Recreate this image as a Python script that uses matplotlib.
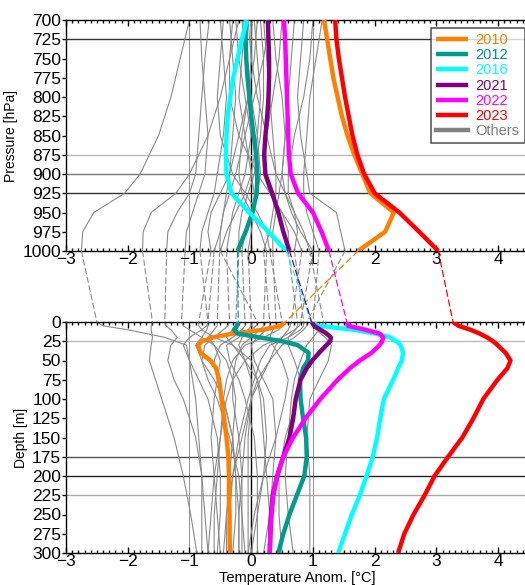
import matplotlib
matplotlib.use("Agg")
import matplotlib.pyplot as plt
from matplotlib.patches import ConnectionPatch
from matplotlib.ticker import MultipleLocator

plt.rcParams['font.family'] = ['Liberation Sans', 'DejaVu Sans']

# ---------------- data ----------------
p_levels = [700, 725, 750, 775, 800, 825, 850, 875, 900, 925, 950, 975, 1000]
d_levels = [0, 5, 10, 15, 20, 25, 30, 40, 50, 60, 75, 100, 125, 150, 175, 200, 225, 250, 275, 300]

years = ['2010', '2012', '2016', '2021', '2022', '2023']
colors = ['#FF7F00', '#009B8D', '#00FFFF', '#800080', '#FF00FF', '#FF0000']

air_2010 = [1.18, 1.23, 1.28, 1.33, 1.40, 1.47, 1.56, 1.67, 1.80, 1.93, 2.31, 2.17, 1.73]
air_2012 = [-0.09, -0.09, -0.08, -0.06, -0.03, 0.00, 0.04, 0.08, 0.10, 0.09, 0.02, -0.09, -0.22]
air_2016 = [-0.07, -0.15, -0.22, -0.29, -0.34, -0.38, -0.40, -0.41, -0.40, -0.32, -0.03, 0.28, 0.57]
air_2021 = [0.27, 0.28, 0.29, 0.29, 0.28, 0.26, 0.23, 0.21, 0.23, 0.34, 0.44, 0.52, 0.62]
air_2022 = [0.53, 0.55, 0.56, 0.57, 0.58, 0.59, 0.60, 0.61, 0.64, 0.76, 1.00, 1.14, 1.26]
air_2023 = [1.36, 1.38, 1.42, 1.47, 1.52, 1.58, 1.64, 1.72, 1.83, 2.00, 2.40, 2.72, 3.03]

sea_2010 = [0.55, 0.48, 0.20, -0.30, -0.62, -0.80, -0.86, -0.82, -0.66, -0.57, -0.52, -0.48, -0.44, -0.40, -0.37, -0.36, -0.36, -0.35, -0.35, -0.345]
sea_2012 = [-0.21, -0.23, -0.28, -0.22, 0.14, 0.50, 0.75, 0.93, 0.92, 0.84, 0.79, 0.80, 0.84, 0.89, 0.90, 0.86, 0.74, 0.62, 0.52, 0.44]
sea_2016 = [0.97, 1.10, 1.65, 2.00, 2.25, 2.35, 2.42, 2.46, 2.44, 2.38, 2.30, 2.15, 2.09, 2.04, 1.97, 1.87, 1.76, 1.63, 1.52, 1.41]
sea_2021 = [0.98, 1.02, 1.12, 1.22, 1.29, 1.28, 1.22, 1.10, 0.99, 0.90, 0.80, 0.72, 0.68, 0.62, 0.52, 0.42, 0.35, 0.32, 0.31, 0.30]
sea_2022 = [1.55, 1.57, 1.85, 2.08, 2.14, 2.12, 2.08, 1.95, 1.76, 1.60, 1.40, 1.12, 0.88, 0.68, 0.52, 0.42, 0.36, 0.33, 0.31, 0.30]
sea_2023 = [3.27, 3.36, 3.55, 3.70, 3.82, 3.92, 3.99, 4.12, 4.20, 4.15, 3.99, 3.76, 3.60, 3.42, 3.19, 2.97, 2.81, 2.63, 2.48, 2.38]

air_series = [air_2010, air_2012, air_2016, air_2021, air_2022, air_2023]
sea_series = [sea_2010, sea_2012, sea_2016, sea_2021, sea_2022, sea_2023]

# other years (grey)
p_levels_o = [700, 750, 800, 850, 900, 925, 950, 975, 1000]
d_levels_o = [0, 5, 10, 20, 30, 50, 75, 100, 150, 200, 250, 300]

air_others = [
    [-1.00, -1.15, -1.30, -1.50, -1.80, -2.05, -2.55, -2.73, -2.75],
    [-0.20, -0.35, -0.50, -0.70, -1.00, -1.22, -1.62, -1.75, -1.76],
    [-0.68, -0.75, -0.80, -0.85, -0.90, -1.00, -1.20, -1.35, -1.37],
    [-0.83, -0.80, -0.75, -0.70, -0.75, -0.85, -0.95, -1.05, -1.07],
    [-0.50, -0.45, -0.40, -0.45, -0.55, -0.60, -0.70, -0.80, -0.83],
    [-0.35, -0.30, -0.25, -0.30, -0.35, -0.40, -0.45, -0.50, -0.51],
    [-0.25, -0.20, -0.10, 0.00, -0.10, -0.20, -0.30, -0.35, -0.40],
    [-0.15, -0.10, 0.00, 0.10, 0.15, 0.10, 0.00, -0.10, -0.15],
    [-0.10, -0.15, -0.20, -0.10, 0.00, 0.05, 0.05, 0.00, -0.05],
    [0.05, 0.10, 0.15, 0.10, 0.00, -0.10, -0.25, -0.40, -0.50],
    [0.10, 0.05, -0.05, -0.15, -0.20, -0.15, 0.00, 0.15, 0.25],
    [0.20, 0.25, 0.30, 0.35, 0.40, 0.40, 0.35, 0.30, 0.20],
    [0.35, 0.40, 0.50, 0.55, 0.50, 0.45, 0.40, 0.35, 0.35],
    [0.50, 0.45, 0.35, 0.25, 0.20, 0.30, 0.50, 0.70, 0.82],
    [0.70, 0.65, 0.60, 0.55, 0.50, 0.55, 0.65, 0.80, 1.00],
    [0.85, 0.80, 0.75, 0.80, 0.90, 0.95, 1.38, 1.45, 1.52],
    [1.00, 0.95, 0.85, 0.70, 0.60, 0.60, 0.70, 0.85, 0.95],
    [1.15, 1.05, 0.95, 0.90, 0.85, 0.85, 0.90, 1.00, 1.10],
    [-0.45, -0.50, -0.55, -0.50, -0.30, -0.10, 0.10, 0.25, 0.30],
    [0.00, 0.00, -0.05, -0.20, -0.35, -0.50, -0.65, -0.70, -0.65],
    [-0.30, -0.35, -0.35, -0.20, 0.10, 0.30, 0.50, 0.60, 0.60],
    [0.15, 0.20, 0.20, 0.15, 0.05, -0.05, -0.15, -0.20, -0.20],
    [-0.05, 0.00, 0.10, 0.25, 0.40, 0.55, 0.70, 0.75, 0.70],
    [0.30, 0.20, 0.05, -0.10, -0.25, -0.35, -0.45, -0.50, -0.60],
]

sea_others = [
    [-2.50, -2.40, -2.00, -1.40, -1.05, -1.00, -0.95, -0.90, -0.85, -0.80, -0.80, -0.80],
    [-1.60, -1.62, -1.62, -1.60, -1.62, -1.65, -1.55, -1.45, -1.25, -1.10, -0.98, -0.88],
    [-1.40, -1.38, -1.30, -1.20, -1.30, -1.35, -1.25, -1.10, -0.90, -0.80, -0.75, -0.70],
    [-1.13, -1.10, -1.00, -0.80, -0.60, -0.50, -0.55, -0.60, -0.65, -0.60, -0.55, -0.50],
    [-0.70, -0.72, -0.80, -1.00, -1.10, -1.00, -0.85, -0.70, -0.55, -0.50, -0.50, -0.55],
    [-0.55, -0.55, -0.60, -0.70, -0.60, -0.40, -0.30, -0.25, -0.30, -0.35, -0.40, -0.40],
    [-0.35, -0.38, -0.45, -0.60, -0.75, -0.80, -0.70, -0.55, -0.35, -0.20, -0.15, -0.10],
    [-0.10, -0.10, -0.15, -0.30, -0.50, -0.60, -0.55, -0.45, -0.30, -0.25, -0.25, -0.30],
    [0.00, 0.00, -0.05, -0.20, -0.40, -0.35, -0.20, -0.10, 0.05, 0.10, 0.10, 0.10],
    [0.10, 0.08, 0.00, -0.15, -0.20, -0.10, 0.10, 0.20, 0.25, 0.20, 0.10, 0.00],
    [0.20, 0.20, 0.15, 0.00, -0.15, -0.25, -0.30, -0.30, -0.20, -0.15, -0.20, -0.20],
    [0.30, 0.30, 0.25, 0.10, 0.00, 0.05, 0.20, 0.35, 0.40, 0.35, 0.30, 0.20],
    [0.40, 0.40, 0.35, 0.30, 0.35, 0.50, 0.60, 0.55, 0.40, 0.20, 0.05, -0.05],
    [0.65, 0.63, 0.60, 0.50, 0.40, 0.30, 0.15, 0.00, -0.15, -0.30, -0.40, -0.45],
    [0.80, 0.78, 0.70, 0.50, 0.20, -0.10, -0.30, -0.40, -0.50, -0.55, -0.60, -0.60],
    [0.90, 0.90, 0.85, 0.70, 0.50, 0.30, 0.10, 0.00, -0.10, -0.15, -0.15, -0.15],
    [1.17, 1.15, 1.10, 1.00, 0.90, 0.80, 0.70, 0.65, 0.60, 0.55, 0.60, 0.68],
    [1.00, 1.00, 1.05, 1.20, 1.30, 1.25, 1.10, 0.95, 0.90, 0.95, 0.95, 0.95],
    [0.50, 0.50, 0.45, 0.20, -0.10, -0.30, -0.40, -0.45, -0.50, -0.60, -0.65, -0.70],
    [-0.85, -0.85, -0.80, -0.60, -0.30, 0.00, 0.10, 0.15, 0.20, 0.25, 0.30, 0.30],
    [0.75, 0.75, 0.72, 0.60, 0.60, 0.70, 0.80, 0.75, 0.55, 0.45, 0.45, 0.50],
    [-0.25, -0.25, -0.30, -0.40, -0.30, -0.10, 0.00, 0.00, -0.05, -0.05, -0.05, -0.05],
    [0.85, 0.85, 0.80, 0.60, 0.30, 0.15, 0.05, -0.05, -0.20, -0.30, -0.35, -0.35],
    [-0.70, -0.70, -0.72, -0.80, -0.90, -0.80, -0.60, -0.45, -0.30, -0.25, -0.20, -0.20],
]

p_ticks = [700, 725, 750, 775, 800, 825, 850, 875, 900, 925, 950, 975, 1000]
d_ticks = [0, 25, 50, 75, 100, 125, 150, 175, 200, 225, 250, 275, 300]
x_ticks = [-3, -2, -1, 0, 1, 2, 3, 4]

# ---------------- figure ----------------
W, H = 525, 585
fig = plt.figure(figsize=(W / 100, H / 100), dpi=100)
left = 66 / W
width = 463 / W
ax_top = fig.add_axes([left, 1 - 251 / H, width, 231 / H])
ax_bot = fig.add_axes([left, 1 - 553 / H, width, 231 / H])

grey = '#8a8a8a'

for ax in (ax_top, ax_bot):
    ax.set_xlim(-3, 4.5)
    ax.set_xticks(x_ticks)
    ax.set_xticklabels(['\u22123', '\u22122', '\u22121', '0', '1', '2', '3', '4'])
    ax.xaxis.set_minor_locator(MultipleLocator(0.1))
    ax.tick_params(axis='x', which='major', direction='in', length=4, width=1,
                   top=True, bottom=True, labelsize=12.5, pad=1)
    ax.tick_params(axis='x', which='minor', direction='in', length=2, width=1,
                   top=True, bottom=True)
    ax.tick_params(axis='y', which='major', direction='out', length=3, width=1,
                   labelsize=12.5, pad=0.5)
    ax.spines['right'].set_visible(False)
    for s in ('left', 'top', 'bottom'):
        ax.spines[s].set_linewidth(1.0)
    ax.axvline(0, color='black', lw=1.0, zorder=1)
    ax.axvline(-1, color='#999999', lw=0.8, zorder=1)
    ax.axvline(1, color='#999999', lw=0.8, zorder=1)

# top panel
ax_top.set_ylim(1000, 700)
ax_top.set_yticks(p_ticks)
ax_top.axhline(725, color='#333333', lw=1.0, zorder=1)
ax_top.axhline(875, color='#bbbbbb', lw=1.0, zorder=1)
ax_top.axhline(900, color='#777777', lw=1.0, zorder=1)
ax_top.axhline(925, color='#333333', lw=1.0, zorder=1)
ax_top.set_ylabel('Pressure [hPa]', fontsize=10, labelpad=3)

# bottom panel
ax_bot.set_ylim(300, 0)
ax_bot.set_yticks(d_ticks)
ax_bot.axhline(25, color='#bbbbbb', lw=1.0, zorder=1)
ax_bot.axhline(175, color='#555555', lw=1.0, zorder=1)
ax_bot.axhline(200, color='#222222', lw=1.0, zorder=1)
ax_bot.axhline(225, color='#aaaaaa', lw=1.0, zorder=1)
ax_bot.set_ylabel('Depth [m]', fontsize=10, labelpad=3)
ax_bot.set_xlabel('Temperature Anom. [\u00b0C]', fontsize=10.5, labelpad=1)

# grey lines
for a, s in zip(air_others, sea_others):
    ax_top.plot(a, p_levels_o, color=grey, lw=0.8, zorder=2)
    ax_bot.plot(s, d_levels_o, color=grey, lw=0.8, zorder=2)
    con = ConnectionPatch(xyA=(a[-1], p_levels_o[-1]), coordsA=ax_top.transData,
                          xyB=(s[0], d_levels_o[0]), coordsB=ax_bot.transData,
                          color=grey, lw=0.8, linestyle=(0, (5, 3)), zorder=2)
    fig.add_artist(con)

# highlighted years
for yr, c, a, s in zip(years, colors, air_series, sea_series):
    ax_top.plot(a, p_levels, color=c, lw=3.2, zorder=4, label=yr,
                solid_capstyle='butt')
    ax_bot.plot(s, d_levels, color=c, lw=3.2, zorder=4, solid_capstyle='butt')
    con = ConnectionPatch(xyA=(a[-1], p_levels[-1]), coordsA=ax_top.transData,
                          xyB=(s[0], d_levels[0]), coordsB=ax_bot.transData,
                          color=c, lw=0.9, linestyle=(0, (5, 3)), zorder=3)
    fig.add_artist(con)

ax_top.plot([], [], color='#808080', lw=3.2, label='Others')

leg = ax_top.legend(loc='upper left', bbox_to_anchor=(431 / W, 1 - 28 / H),
                    bbox_transform=fig.transFigure, fontsize=10.5,
                    labelcolor='linecolor', frameon=True, fancybox=False,
                    borderaxespad=0, labelspacing=0.08, handlelength=2.2,
                    handletextpad=0.5, borderpad=0.35)
leg.get_frame().set_edgecolor('#333333')
leg.get_frame().set_linewidth(1.2)
leg.set_zorder(10)

fig.savefig('out.png', dpi=100)
